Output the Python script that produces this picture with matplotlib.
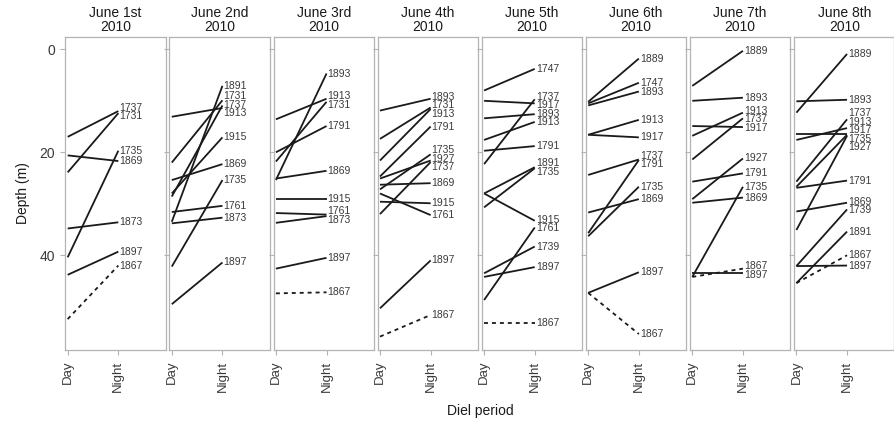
import matplotlib
matplotlib.use("Agg")
import matplotlib.pyplot as plt
import numpy as np

plt.rcParams['font.family'] = ['Liberation Sans', 'DejaVu Sans']

# ---------------- data ----------------
panel_titles = ["June 1st\n2010", "June 2nd\n2010", "June 3rd\n2010", "June 4th\n2010",
                "June 5th\n2010", "June 6th\n2010", "June 7th\n2010", "June 8th\n2010"]
periods = ["Day", "Night"]

ids_1 = ["1737", "1731", "1735", "1869", "1873", "1897", "1867"]
day_1 = [17.0, 23.9, 40.4, 20.6, 34.8, 43.8, 52.4]
night_1 = [12.0, 12.4, 19.7, 21.7, 33.6, 39.3, 42.0]

ids_2 = ["1913", "1731", "1869", "1737", "1915", "1761", "1873", "1891", "1735", "1897"]
day_2 = [13.1, 22.0, 25.4, 28.6, 28.0, 31.6, 33.8, 33.5, 42.2, 49.5]
night_2 = [11.4, 9.9, 22.3, 10.9, 17.1, 30.4, 32.7, 7.1, 25.4, 41.4]

ids_3 = ["1893", "1913", "1731", "1791", "1869", "1915", "1761", "1873", "1897", "1867"]
day_3 = [25.4, 13.6, 21.8, 20.0, 25.1, 29.1, 31.8, 33.7, 42.6, 47.4]
night_3 = [4.7, 9.6, 10.2, 14.9, 23.6, 29.1, 32.1, 32.4, 40.5, 47.2]

ids_4 = ["1893", "1731", "1913", "1791", "1927", "1735", "1869", "1761", "1915", "1737", "1897", "1867"]
day_4 = [11.9, 17.4, 21.6, 24.7, 25.1, 27.2, 26.3, 28.0, 29.6, 32.0, 50.3, 55.8]
night_4 = [9.6, 11.3, 11.6, 15.0, 21.6, 20.4, 26.0, 32.2, 29.9, 21.9, 41.0, 51.6]

ids_5 = ["1747", "1917", "1893", "1913", "1791", "1737", "1891", "1915", "1735", "1739", "1897", "1761", "1867"]
day_5 = [8.0, 10.0, 13.4, 17.6, 19.7, 22.3, 28.0, 28.0, 30.7, 43.5, 44.2, 48.7, 53.2]
night_5 = [3.8, 10.5, 12.6, 14.1, 18.8, 9.7, 22.9, 33.3, 23.1, 38.3, 42.3, 34.6, 53.2]

ids_6 = ["1889", "1747", "1893", "1913", "1917", "1737", "1869", "1791", "1735", "1897", "1867"]
day_6 = [10.2, 10.5, 10.9, 16.6, 16.6, 24.4, 31.7, 35.7, 36.3, 47.3, 47.3]
night_6 = [1.8, 6.5, 8.2, 13.7, 17.1, 21.4, 29.1, 21.5, 26.7, 43.3, 55.3]

ids_7 = ["1889", "1893", "1917", "1913", "1737", "1791", "1927", "1869", "1735", "1897", "1867"]
day_7 = [7.1, 10.0, 14.9, 16.8, 21.4, 25.7, 29.1, 29.8, 44.2, 43.4, 44.2]
night_7 = [0.3, 9.4, 15.1, 12.3, 13.4, 24.1, 21.2, 28.8, 26.7, 43.4, 42.6]

ids_8 = ["1889", "1893", "1917", "1913", "1737", "1735", "1927", "1791", "1869", "1739", "1897", "1891", "1867"]
day_8 = [12.3, 10.1, 16.5, 17.6, 25.7, 26.7, 35.1, 26.9, 31.5, 42.1, 42.1, 45.4, 45.4]
night_8 = [0.9, 9.8, 16.5, 15.3, 13.6, 16.6, 16.8, 25.5, 29.8, 31.1, 42.0, 35.4, 40.0]

all_ids = [ids_1, ids_2, ids_3, ids_4, ids_5, ids_6, ids_7, ids_8]
all_day = [day_1, day_2, day_3, day_4, day_5, day_6, day_7, day_8]
all_night = [night_1, night_2, night_3, night_4, night_5, night_6, night_7, night_8]
dashed_ids = ["1867"]

y_ticks = [0, 20, 40]


def spread_labels(vals, gap):
    """Simple 1-D label repulsion: merge overlapping clusters and space them evenly."""
    vals = np.asarray(vals, float)
    order = np.argsort(vals)
    clusters = [[i] for i in order]

    def positions(cl):
        c = vals[cl].mean()
        n = len(cl)
        return [c + (k - (n - 1) / 2) * gap for k in range(n)]

    changed = True
    while changed:
        changed = False
        for j in range(len(clusters) - 1):
            a, b = clusters[j], clusters[j + 1]
            if positions(b)[0] - positions(a)[-1] < gap - 1e-9:
                clusters[j] = a + b
                del clusters[j + 1]
                changed = True
                break
    out = np.empty(len(vals))
    for cl in clusters:
        for i, p in zip(cl, positions(cl)):
            out[i] = p
    return out


W, H = 895, 424
fig, axes = plt.subplots(1, 8, figsize=(W / 100, H / 100), dpi=100, sharey=True)
fig.subplots_adjust(left=65.3 / W, right=894.5 / W, top=1 - 36.7 / H, bottom=1 - 350 / H,
                    wspace=0.036)

line_col = "#1a1a1a"
text_col = "#3a3a3a"
frame_col = "#b3b3b3"

for k, ax in enumerate(axes):
    ids, dv, nv = all_ids[k], all_day[k], all_night[k]
    for i, d, n in zip(ids, dv, nv):
        ls = (0, (2.2, 2.2)) if i in dashed_ids else "-"
        ax.plot([1, 2], [d, n], color=line_col, lw=1.3, ls=ls, solid_capstyle="butt")
    lab_y = spread_labels(nv, 1.65)
    for i, ly in zip(ids, lab_y):
        ax.text(2.02, ly, i, ha="left", va="center", fontsize=7.5, color=text_col)

    ax.set_xlim(0.953, 2.937)
    ax.set_ylim(58.4, -2.45)
    ax.set_xticks([1, 2])
    ax.set_xticklabels(periods, rotation=90, fontsize=9.5, color=text_col, va="top")
    ax.set_yticks(y_ticks)
    ax.tick_params(axis="both", colors=frame_col, length=3.5, width=0.8, labelcolor=text_col)
    ax.tick_params(axis="x", pad=4)
    ax.tick_params(axis="y", labelsize=10, pad=4)
    for sp in ax.spines.values():
        sp.set_color(frame_col)
        sp.set_linewidth(0.9)
    ax.text(0.5, 1.009, panel_titles[k], transform=ax.transAxes, ha="center", va="bottom",
            fontsize=10, color="#1a1a1a", linespacing=1.0, multialignment="center")

axes[0].set_ylabel("Depth (m)", fontsize=10, color="#1a1a1a", labelpad=7)
fig.text((65.3 + 894.5) / 2 / W, 1 - 411 / H, "Diel period", ha="center", va="center",
         fontsize=10, color="#1a1a1a")

fig.savefig("out.png", dpi=100)
